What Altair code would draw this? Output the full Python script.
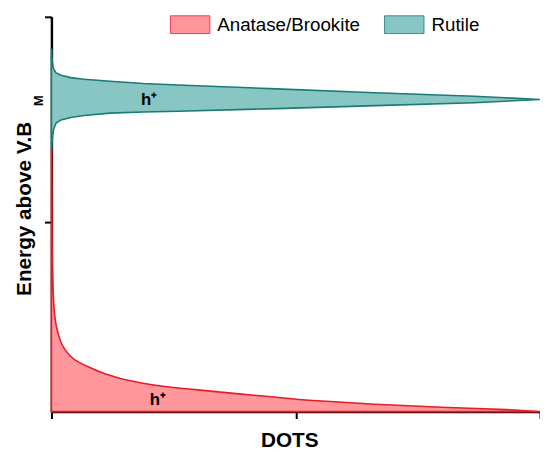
import altair as alt
import pandas as pd

# Rutile (teal) density of trap states: energy vs DOTS
rutile_energy = [91.75, 89.75, 88.0, 86.8, 85.8, 85.2, 84.6, 84.2, 83.7, 83.1, 82.75, 81.75, 80.75,
                 79.9, 79.05, 78.25, 77.5, 76.75, 76.1, 75.9, 75.6, 75.0, 74.5, 73.9, 73.1, 71.5,
                 69.75, 68.0, 66.5]
rutile_dots = [0.06, 0.1, 0.24, 0.46, 0.95, 1.96, 3.98, 6.67, 12.0, 18.8, 25.9, 46.1, 66.3,
               86.5, 100, 86.5, 66.3, 46.1, 25.9, 18.8, 12.0, 6.67, 3.98, 1.96, 0.95, 0.46,
               0.24, 0.12, 0.06]

# Anatase/Brookite (red)
anatase_energy = [66.5, 53.5, 41.0, 34.3, 25.25, 20.25, 16.0, 13.25, 11.5, 9.75, 7.75, 6.375,
                  5.5, 4.375, 3.625, 2.875, 2.375, 1.875, 1.125, 0.5, 0]
anatase_dots = [0.06, 0.1, 0.16, 0.26, 0.6, 1.27, 2.63, 4.65, 7.27, 10.7, 16.4, 23.2,
                29.9, 39.4, 46.1, 52.7, 59.6, 66.3, 79.8, 93.1, 100]

series = ["Anatase/Brookite", "Rutile"]
fills = ["#FF979D", "#88C6C3"]
strokes = ["#E41E26", "#1D7A74"]

label_text = ["h⁺", "h⁺"]
label_energy = [3, 79]
label_dots = [21.8, 20]

df_a = pd.DataFrame({"energy": anatase_energy, "dots": anatase_dots, "series": series[0]})
df_r = pd.DataFrame({"energy": rutile_energy, "dots": rutile_dots, "series": series[1]})
labels = pd.DataFrame({"energy": label_energy, "dots": label_dots, "text": label_text})

xscale = alt.Scale(domain=[0, 100], nice=False, zero=True)
yscale = alt.Scale(domain=[0, 100], nice=False, zero=True)

x_enc = alt.X("dots:Q", scale=xscale, stack=None,
              axis=alt.Axis(title="DOTS", values=[0, 50, 100], labels=False, grid=False,
                            domainColor="black", domainWidth=2.5, tickColor="black",
                            tickWidth=2, tickSize=7, titleFont="Liberation Sans",
                            titleFontSize=21, titleFontWeight="bold", titleColor="black",
                            titleX=241, titleY=35, titleBaseline="alphabetic"))
y_enc = alt.Y("energy:Q", scale=yscale,
              axis=alt.Axis(title="Energy above V.B", values=[48, 100], labels=False, grid=False,
                            domainColor="black", domainWidth=2.5, tickColor="black",
                            tickWidth=2, tickSize=7, titleFont="Liberation Sans",
                            titleFontSize=21, titleFontWeight="bold", titleColor="black",
                            titleAngle=270, titleX=-21, titleY=194, titleAlign="center",
                            titleBaseline="alphabetic"))
fill_enc = alt.Fill("series:N", scale=alt.Scale(domain=series, range=fills),
                    legend=alt.Legend(title=None, orient="none", legendX=120, legendY=-13,
                                      direction="horizontal",
                                      symbolType="M-1,-0.45L1,-0.45L1,0.45L-1,0.45Z",
                                      symbolSize=1600, symbolStrokeColor="#A0A0A0",
                                      symbolStrokeWidth=0.8, symbolOpacity=1,
                                      labelFont="Liberation Sans", labelFontSize=19,
                                      labelColor="black", labelOffset=7, columnPadding=22,
                                      padding=0))
stroke_enc = alt.Stroke("series:N", scale=alt.Scale(domain=series, range=strokes), legend=None)

area_a = alt.Chart(df_a).mark_area(orient="horizontal", strokeWidth=1.6, opacity=1,
                                   interpolate="monotone").encode(
    x=x_enc, y=y_enc, fill=fill_enc, stroke=stroke_enc)
area_r = alt.Chart(df_r).mark_area(orient="horizontal", strokeWidth=1.6, opacity=1,
                                   interpolate="linear").encode(
    x=x_enc, y=y_enc, fill=fill_enc, stroke=stroke_enc)

hlabels = alt.Chart(labels).mark_text(font="Liberation Sans", fontSize=17, fontWeight="bold",
                                      color="black").encode(
    x=alt.X("dots:Q", scale=xscale),
    y=alt.Y("energy:Q", scale=yscale),
    text="text:N",
)

sub_m = alt.Chart(pd.DataFrame({"t": ["M"]})).mark_text(
    font="Liberation Sans", fontSize=13, fontWeight="bold", color="black", angle=270,
    baseline="alphabetic", align="center").encode(
    x=alt.value(-9), y=alt.value(85), text="t:N")

chart = alt.layer(area_a, area_r, hlabels, sub_m).properties(
    width=495, height=400,
    autosize=alt.AutoSizeParams(type="none"),
    padding={"left": 44, "top": 6, "right": 0, "bottom": 40},
).configure_view(stroke=None)

chart.save("out.html", embed_options={"renderer": "svg", "actions": False})
